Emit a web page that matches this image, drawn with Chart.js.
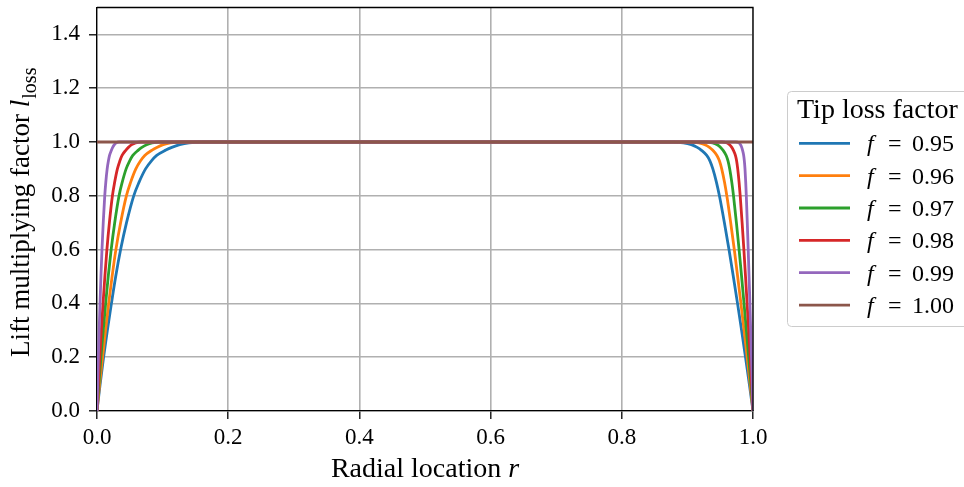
<!DOCTYPE html>
<html>
<head>
<meta charset="utf-8">
<script src="https://cdn.jsdelivr.net/npm/chart.js@4"></script>
<style>
  html, body { margin: 0; padding: 0; background: #fff; }
  canvas { display: block; }
</style>
</head>
<body>
<canvas id="chart" width="964" height="487"></canvas>
<script>
// tip loss factors and their colours
const factorLabels = ['0.95', '0.96', '0.97', '0.98', '0.99', '1.00'];
const lineColors = ['#1f77b4', '#ff7f0e', '#2ca02c', '#d62728', '#9467bd', '#8c564b'];

// lift factor levels where the curves were read: up at the root, down at the tip
const lossLevels = [0, 0.1, 0.2, 0.3, 0.4, 0.5, 0.6, 0.7, 0.8, 0.85, 0.9, 0.93, 0.95, 0.97, 0.98, 0.99, 0.997, 1,
                    1, 0.997, 0.99, 0.98, 0.97, 0.95, 0.93, 0.9, 0.85, 0.8, 0.7, 0.6, 0.5, 0.4, 0.3, 0.2, 0.1, 0];

// radial location r at which each curve crosses those levels
const r095 = [0, 0.0048, 0.0100, 0.0158, 0.022, 0.0285, 0.036, 0.045, 0.056, 0.064, 0.074, 0.083, 0.091, 0.105, 0.114, 0.126, 0.14, 0.16,
              0.875, 0.894, 0.906, 0.915, 0.921, 0.9295, 0.9343, 0.9388, 0.9443, 0.9488, 0.9564, 0.9634, 0.970, 0.9764, 0.9826, 0.9886, 0.9944, 1];
const r096 = [0, 0.0040, 0.0085, 0.013, 0.0178, 0.023, 0.0288, 0.036, 0.0448, 0.0512, 0.0592, 0.0664, 0.0728, 0.084, 0.0912, 0.1008, 0.112, 0.128,
              0.9025, 0.9173, 0.9267, 0.9337, 0.9384, 0.945, 0.9488, 0.9523, 0.9566, 0.9601, 0.966, 0.9715, 0.9766, 0.9816, 0.9864, 0.9911, 0.9956, 1];
const r097 = [0, 0.0029, 0.006, 0.0095, 0.0132, 0.0171, 0.0216, 0.027, 0.0336, 0.0384, 0.0444, 0.0498, 0.0546, 0.063, 0.0684, 0.0756, 0.084, 0.096,
              0.9275, 0.9385, 0.9455, 0.9507, 0.9542, 0.9591, 0.9619, 0.9645, 0.9677, 0.9703, 0.9747, 0.9788, 0.9826, 0.9863, 0.9899, 0.9934, 0.9968, 1];
const r098 = [0, 0.002, 0.0042, 0.0066, 0.0092, 0.012, 0.0151, 0.0189, 0.0235, 0.0269, 0.0311, 0.0349, 0.0382, 0.0441, 0.0479, 0.0529, 0.0588, 0.0672,
              0.9525, 0.9597, 0.9643, 0.9677, 0.970, 0.9732, 0.975, 0.9767, 0.9788, 0.9805, 0.9834, 0.9861, 0.9886, 0.991, 0.9934, 0.9957, 0.9979, 1];
const r099 = [0, 0.001, 0.0021, 0.0033, 0.0046, 0.006, 0.0076, 0.0095, 0.0118, 0.0134, 0.0155, 0.0174, 0.0191, 0.0221, 0.0239, 0.0265, 0.0294, 0.0336,
              0.974, 0.9785, 0.981, 0.9828, 0.984, 0.9858, 0.9868, 0.9878, 0.9889, 0.9898, 0.9913, 0.9927, 0.994, 0.9953, 0.9965, 0.9977, 0.9989, 1];

// f = 1.00 is flat
const r100 = [0, 1];
const l100 = [1, 1];

const rValues = [r095, r096, r097, r098, r099, r100];
const lValues = [lossLevels, lossLevels, lossLevels, lossLevels, lossLevels, l100];

const xTicks = [0, 0.2, 0.4, 0.6, 0.8, 1.0];
const yTicks = [0, 0.2, 0.4, 0.6, 0.8, 1.0, 1.2, 1.4];

const serif = '"Liberation Serif", "Times New Roman", serif';

const datasets = factorLabels.map((lab, i) => ({
  label: 'f = ' + lab,
  data: rValues[i].map((r, k) => ({ x: r, y: lValues[i][k] })),
  borderColor: lineColors[i],
  backgroundColor: lineColors[i],
  borderWidth: 2.8,
  pointRadius: 0,
  fill: false,
  cubicInterpolationMode: 'monotone',
  order: factorLabels.length - i
}));

// axis titles with italic parts, top/right spines and the legend box
const overlay = {
  id: 'overlay',
  afterDraw(chart) {
    const { ctx, chartArea: a } = chart;
    ctx.save();

    ctx.strokeStyle = '#000';
    ctx.lineWidth = 1.3;
    ctx.beginPath();
    ctx.moveTo(a.left, a.top);
    ctx.lineTo(a.right, a.top);
    ctx.lineTo(a.right, a.bottom);
    ctx.stroke();

    ctx.fillStyle = '#000';
    ctx.textBaseline = 'alphabetic';
    ctx.textAlign = 'left';

    // x title
    ctx.font = `28px ${serif}`;
    const xMain = 'Radial location ';
    const w1 = ctx.measureText(xMain).width;
    ctx.font = `italic 28px ${serif}`;
    const w2 = ctx.measureText('r').width;
    const x0 = (a.left + a.right) / 2 - (w1 + w2) / 2;
    ctx.font = `28px ${serif}`;
    ctx.fillText(xMain, x0, 477);
    ctx.font = `italic 28px ${serif}`;
    ctx.fillText('r', x0 + w1, 477);

    // y title
    ctx.save();
    ctx.translate(29, (a.top + a.bottom) / 2 + 3);
    ctx.rotate(-Math.PI / 2);
    ctx.font = `27px ${serif}`;
    const yMain = 'Lift multiplying factor ';
    const m1 = ctx.measureText(yMain).width;
    ctx.font = `italic 27px ${serif}`;
    const m2 = ctx.measureText('l').width + 1;
    ctx.font = `20px ${serif}`;
    const m3 = ctx.measureText('loss').width;
    const s = -(m1 + m2 + m3) / 2;
    ctx.font = `27px ${serif}`;
    ctx.fillText(yMain, s, 0);
    ctx.font = `italic 27px ${serif}`;
    ctx.fillText('l', s + m1, 0);
    ctx.font = `20px ${serif}`;
    ctx.fillText('loss', s + m1 + m2, 7);
    ctx.restore();

    // legend
    const lx = 787.5, ly = 91.5, lw = 190, lh = 235;
    ctx.fillStyle = 'rgba(255,255,255,0.8)';
    ctx.strokeStyle = '#cccccc';
    ctx.lineWidth = 1;
    ctx.beginPath();
    ctx.roundRect(lx, ly, lw, lh, 4);
    ctx.fill();
    ctx.stroke();

    ctx.fillStyle = '#000';
    ctx.font = `28px ${serif}`;
    ctx.fillText('Tip loss factor', 797, 118);

    factorLabels.forEach((lab, i) => {
      const yy = 143.3 + i * 32.35;
      ctx.strokeStyle = lineColors[i];
      ctx.lineWidth = 2.8;
      ctx.beginPath();
      ctx.moveTo(799, yy);
      ctx.lineTo(850, yy);
      ctx.stroke();
      ctx.fillStyle = '#000';
      ctx.font = `italic 24px ${serif}`;
      ctx.fillText('f', 867, yy + 8);
      ctx.font = `24px ${serif}`;
      ctx.fillText('=', 888, yy + 8);
      ctx.fillText(lab, 912, yy + 8);
    });

    ctx.restore();
  }
};

const noPad = sc => { sc.paddingTop = 0; sc.paddingBottom = 0; sc.paddingLeft = 0; sc.paddingRight = 0; };

new Chart(document.getElementById('chart'), {
  type: 'line',
  data: { datasets },
  options: {
    responsive: false,
    animation: false,
    events: [],
    layout: { padding: { left: 0, top: 7.5, right: 211, bottom: 0 } },
    plugins: { legend: { display: false }, tooltip: { enabled: false } },
    scales: {
      x: {
        type: 'linear',
        min: 0,
        max: 1,
        afterBuildTicks: sc => { sc.ticks = xTicks.map(v => ({ value: v })); },
        afterFit: sc => { sc.height = 76; noPad(sc); },
        ticks: {
          color: '#000',
          font: { family: serif, size: 23 },
          padding: 5,
          maxRotation: 0,
          callback: v => v.toFixed(1)
        },
        grid: { color: '#b0b0b0', lineWidth: 1.6, tickColor: '#000', tickWidth: 1.3, tickLength: 8 },
        border: { color: '#000', width: 1.3 }
      },
      y: {
        min: 0,
        max: 1.5,
        afterBuildTicks: sc => { sc.ticks = yTicks.map(v => ({ value: v })); },
        afterFit: sc => { sc.width = 97; noPad(sc); },
        ticks: {
          color: '#000',
          font: { family: serif, size: 23 },
          padding: 9,
          callback: v => v.toFixed(1)
        },
        grid: { color: '#b0b0b0', lineWidth: 1.6, tickColor: '#000', tickWidth: 1.3, tickLength: 8 },
        border: { color: '#000', width: 1.3 }
      }
    }
  },
  plugins: [overlay]
});
</script>
</body>
</html>
